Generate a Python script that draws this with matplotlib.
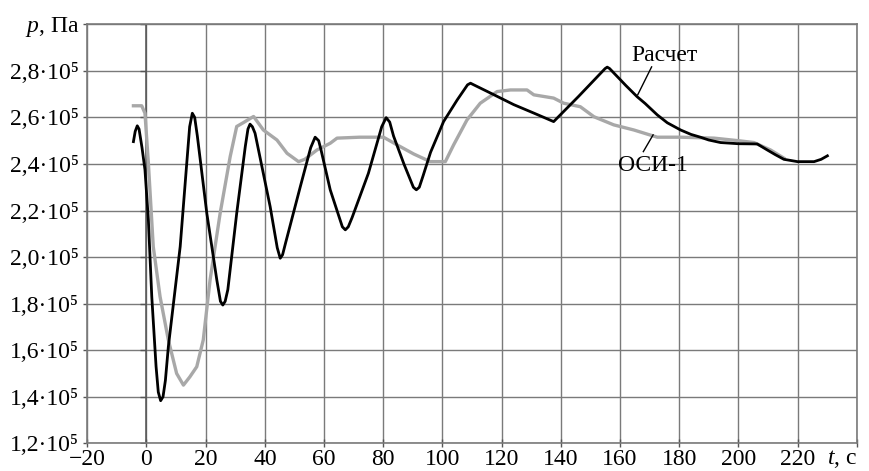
import matplotlib
matplotlib.use("Agg")
import matplotlib.pyplot as plt

plt.rcParams['font.family'] = ['Liberation Serif', 'DejaVu Serif']
plt.rcParams['mathtext.fontset'] = 'custom'
plt.rcParams['mathtext.rm'] = 'Liberation Serif'
plt.rcParams['mathtext.it'] = 'Liberation Serif:italic'

# Calculated pressure ("Расчет"), time in s, pressure in 10^5 Pa
t_calc = [-4.4, -3.8, -3.1, -2.5, -1.5, -0.5, 0.65, 1.8, 3.25, 4.0, 4.8, 5.6, 6.4,
          7.4, 11.4, 13.6, 14.6, 15.5, 16.3, 17.2, 20.4, 23.8, 25.0, 25.8, 26.6,
          27.5, 30.5, 33.4, 34.3, 35.0, 35.8, 36.7, 41.8, 44.2, 45.2, 46.0, 47.0,
          52.0, 55.5, 57.0, 58.2, 59.0, 62.1, 66.2, 67.2, 68.2, 69.5, 75.0, 79.5,
          81.0, 82.2, 83.5, 87.0, 90.2, 91.2, 92.2, 93.5, 96.0, 100.4, 105.0,
          108.5, 109.5, 110.6, 117.0, 124.1, 131.0, 137.6, 146.0, 155.0, 155.7,
          156.5, 158.0, 160.2, 162.0, 165.8, 168.5, 172.6, 176.0, 180.5, 184.0,
          187.2, 190.0, 194.0, 200.0, 206.4, 209.8, 212.5, 215.4, 220.0, 225.6,
          228.0, 230.1]
p_calc = [2.496, 2.54, 2.564, 2.55, 2.47, 2.375, 2.16, 1.83, 1.53, 1.42, 1.383,
          1.40, 1.47, 1.615, 2.045, 2.40, 2.56, 2.618, 2.60, 2.52, 2.188, 1.90,
          1.81, 1.794, 1.81, 1.86, 2.188, 2.475, 2.55, 2.571, 2.56, 2.532, 2.217,
          2.04, 1.995, 2.01, 2.06, 2.303, 2.47, 2.515, 2.50, 2.46, 2.289, 2.13,
          2.117, 2.13, 2.17, 2.36, 2.56, 2.599, 2.58, 2.52, 2.40, 2.30, 2.289,
          2.30, 2.35, 2.45, 2.582, 2.675, 2.74, 2.747, 2.74, 2.70, 2.655, 2.618,
          2.582, 2.69, 2.81, 2.816, 2.81, 2.79, 2.761, 2.737, 2.689, 2.66, 2.611,
          2.577, 2.546, 2.527, 2.515, 2.503, 2.492, 2.487, 2.486, 2.46, 2.44,
          2.42, 2.41, 2.41, 2.42, 2.435]

# Measured pressure ("ОСИ-1")
t_meas = [-4.4, -1.6, -0.5, 0.65, 2.3, 4.6, 7.4, 10.2, 12.5, 14.7, 17.0, 19.2,
          21.5, 24.9, 28.3, 30.5, 32.8, 36.2, 39.5, 44.1, 47.5, 51.4, 53.5, 57.6,
          62.1, 64.4, 72.0, 80.1, 84.7, 90.3, 95.9, 101.0, 103.8, 108.3, 112.8,
          118.5, 123.0, 128.6, 130.9, 137.6, 141.0, 146.6, 151.2, 157.9, 164.7,
          172.6, 180.5, 191.8, 200.0, 205.3, 210.9, 215.4]
p_meas = [2.65, 2.65, 2.618, 2.403, 2.045, 1.83, 1.644, 1.50, 1.45, 1.486, 1.529,
          1.644, 1.902, 2.188, 2.432, 2.561, 2.578, 2.604, 2.546, 2.503, 2.446,
          2.41, 2.42, 2.46, 2.489, 2.511, 2.515, 2.515, 2.482, 2.443, 2.41, 2.41,
          2.482, 2.589, 2.661, 2.711, 2.718, 2.718, 2.697, 2.683, 2.661, 2.646,
          2.603, 2.568, 2.546, 2.515, 2.515, 2.511, 2.50, 2.492, 2.46, 2.425]

x_ticks = [-20, 0, 20, 40, 60, 80, 100, 120, 140, 160, 180, 200, 220, 240]
x_labels = ['\u221220', '0', '20', '40', '60', '80', '100', '120', '140', '160',
            '180', '200', '220', '']
y_ticks = [1.2, 1.4, 1.6, 1.8, 2.0, 2.2, 2.4, 2.6, 2.8, 3.0]
y_labels = ['1,2·10\u2075', '1,4·10\u2075', '1,6·10\u2075', '1,8·10\u2075',
            '2,0·10\u2075', '2,2·10\u2075', '2,4·10\u2075', '2,6·10\u2075',
            '2,8·10\u2075', '']

grid_c = '#7a7a7a'

fig = plt.figure(figsize=(8.7, 4.71), dpi=100)
ax = fig.add_axes([0.1003, 0.0588, 0.8844, 0.8896])
ax.set_xlim(-20, 240)
ax.set_ylim(1.2, 3.0)

ax.set_xticks(x_ticks)
ax.set_xticklabels(x_labels)
ax.set_yticks(y_ticks)
ax.set_yticklabels(y_labels)
ax.grid(True, color=grid_c, linewidth=1.0)
ax.set_axisbelow(True)
for s in ax.spines.values():
    s.set_color(grid_c)
    s.set_linewidth(1.2)
ax.tick_params(axis='x', direction='inout', length=6, width=1.0, color='#555555',
               labelsize=17, pad=1)
ax.tick_params(axis='y', direction='out', length=3, width=1.0, color='#555555',
               labelsize=17, pad=3)

# Secondary axis line at t = 0 with small tick marks
ax.axvline(0, color='#555555', linewidth=1.1, zorder=1)
ax.plot([0] * len(y_ticks), y_ticks, linestyle='none', marker=0, markersize=4,
        color='#555555', markeredgewidth=1.0, zorder=1)

ax.plot(t_meas, p_meas, color='#a8a8a8', linewidth=2.4, solid_joinstyle='round',
        zorder=3)
ax.plot(t_calc, p_calc, color='black', linewidth=2.0, solid_joinstyle='round',
        zorder=4)

# Curve labels with leader lines
ax.text(175, 2.865, 'Расчет', fontsize=17, ha='center', va='center')
ax.plot([170.7, 166.0], [2.817, 2.697], color='black', linewidth=1.0, zorder=5)
ax.text(171, 2.395, 'ОСИ-1', fontsize=17, ha='center', va='center')
ax.plot([171.2, 167.9], [2.525, 2.453], color='black', linewidth=1.0, zorder=5)

fig.text(52 / 870, 1 - 27 / 471, '$p$, Па', fontsize=17, ha='center', va='center')
fig.text(842 / 870, 1 - 459 / 471, '$t$, с', fontsize=17, ha='center', va='center')

fig.savefig('out.png', dpi=100)
